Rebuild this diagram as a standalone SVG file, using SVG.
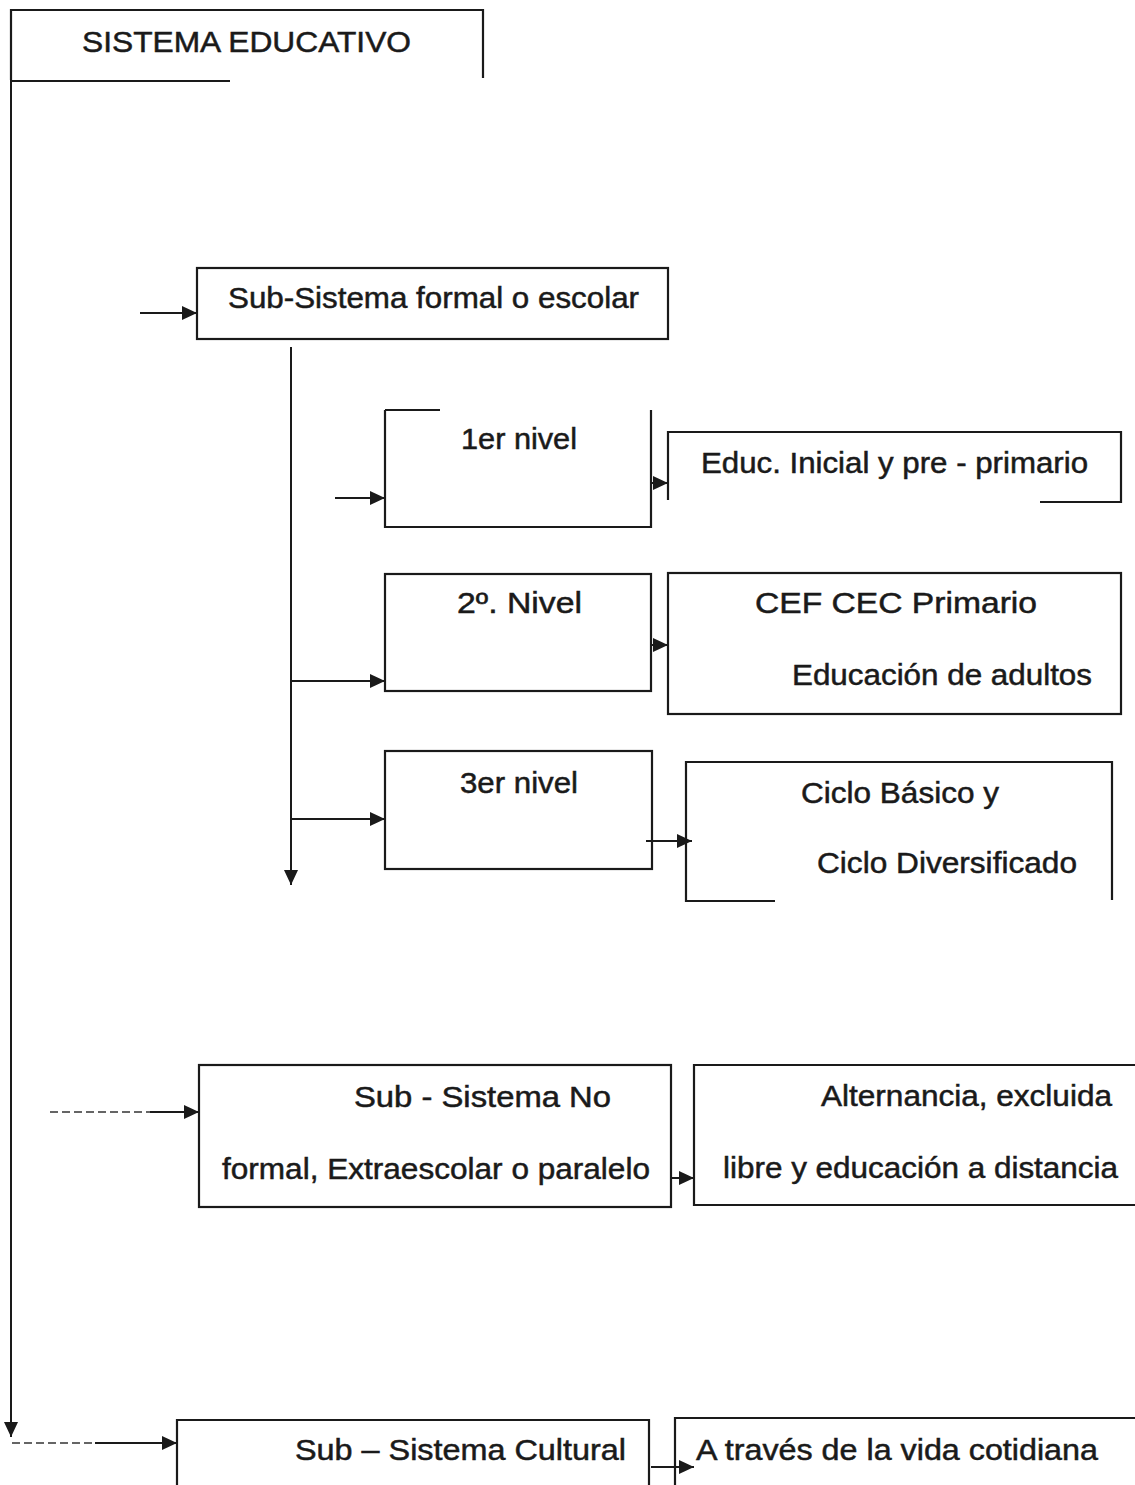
<svg xmlns="http://www.w3.org/2000/svg" width="1135" height="1485" viewBox="0 0 1135 1485">
<style>
.bx{fill:none;stroke:#1a1a1a;stroke-width:2.2}
.ln{fill:none;stroke:#1a1a1a;stroke-width:2}
.ds{fill:none;stroke:#333;stroke-width:1.6;stroke-dasharray:8 4}
.t{font-family:"Liberation Sans",Arial,sans-serif;font-size:29px;fill:#1a1a1a;stroke:#1a1a1a;stroke-width:0.5}
</style>
<defs>
<marker id="ah" markerUnits="userSpaceOnUse" markerWidth="16" markerHeight="14" refX="15" refY="7" orient="auto">
<path d="M0,0 L15,7 L0,14 z" fill="#1a1a1a"/>
</marker>
</defs>
<rect width="1135" height="1485" fill="#ffffff"/>
<g id="connectors">
<path class="ln" d="M11,80 V1437" marker-end="url(#ah)"/>
<path class="ln" d="M140,313 H197" marker-end="url(#ah)"/>
<path class="ln" d="M291,347 V885" marker-end="url(#ah)"/>
<path class="ln" d="M335,498 H385" marker-end="url(#ah)"/>
<path class="ln" d="M291,681 H385" marker-end="url(#ah)"/>
<path class="ln" d="M291,819 H385" marker-end="url(#ah)"/>
<path class="ln" d="M651,483 H668" marker-end="url(#ah)"/>
<path class="ln" d="M651,645 H668" marker-end="url(#ah)"/>
<path class="ln" d="M646,841 H692" marker-end="url(#ah)"/>
<path class="ds" d="M50,1112 H150"/>
<path class="ln" d="M150,1112 H199" marker-end="url(#ah)"/>
<path class="ln" d="M671,1178 H694" marker-end="url(#ah)"/>
<path class="ds" d="M12,1443 H95"/>
<path class="ln" d="M95,1443 H177" marker-end="url(#ah)"/>
<path class="ln" d="M651,1467 H694" marker-end="url(#ah)"/>
</g>
<g id="n-sistema">
<path class="bx" d="M11,80 V10 H483 V78"/>
<path class="bx" d="M11,81 H230"/>
<text class="t" x="82" y="52" textLength="329" lengthAdjust="spacingAndGlyphs">SISTEMA EDUCATIVO</text>
</g>
<g id="n-formal">
<rect class="bx" x="197" y="268" width="471" height="71"/>
<text class="t" x="228" y="308" textLength="411" lengthAdjust="spacingAndGlyphs">Sub-Sistema formal o escolar</text>
</g>
<g id="n-nivel1">
<path class="bx" d="M385,410 H440 M385,410 V527 H651 V410"/>
<text class="t" x="461" y="449" textLength="116" lengthAdjust="spacingAndGlyphs">1er nivel</text>
</g>
<g id="n-inicial">
<path class="bx" d="M668,500 V432 H1121 V502 H1040"/>
<text class="t" x="701" y="473" textLength="387" lengthAdjust="spacingAndGlyphs">Educ. Inicial y pre - primario</text>
</g>
<g id="n-nivel2">
<rect class="bx" x="385" y="574" width="266" height="117"/>
<text class="t" x="457" y="613" textLength="125" lengthAdjust="spacingAndGlyphs">2º.  Nivel</text>
</g>
<g id="n-cef">
<rect class="bx" x="668" y="573" width="453" height="141"/>
<text class="t" x="755" y="613" textLength="282" lengthAdjust="spacingAndGlyphs">CEF  CEC  Primario</text>
<text class="t" x="792" y="685" textLength="300" lengthAdjust="spacingAndGlyphs">Educación de adultos</text>
</g>
<g id="n-nivel3">
<rect class="bx" x="385" y="751" width="267" height="118"/>
<text class="t" x="460" y="793" textLength="118" lengthAdjust="spacingAndGlyphs">3er nivel</text>
</g>
<g id="n-ciclo">
<path class="bx" d="M775,901 H686 V762 H1112 V900"/>
<text class="t" x="801" y="803" textLength="198" lengthAdjust="spacingAndGlyphs">Ciclo Básico y</text>
<text class="t" x="817" y="873" textLength="260" lengthAdjust="spacingAndGlyphs">Ciclo Diversificado</text>
</g>
<g id="n-noformal">
<rect class="bx" x="199" y="1065" width="472" height="142"/>
<text class="t" x="354" y="1107" textLength="257" lengthAdjust="spacingAndGlyphs">Sub - Sistema  No</text>
<text class="t" x="222" y="1179" textLength="428" lengthAdjust="spacingAndGlyphs">formal, Extraescolar o paralelo</text>
</g>
<g id="n-alternancia">
<path class="bx" d="M1136,1065 H694 V1205 H1136"/>
<text class="t" x="821" y="1106" textLength="291" lengthAdjust="spacingAndGlyphs">Alternancia, excluida</text>
<text class="t" x="723" y="1178" textLength="395" lengthAdjust="spacingAndGlyphs">libre y educación a distancia</text>
</g>
<g id="n-cultural">
<path class="bx" d="M177,1486 V1420 H649 V1486"/>
<text class="t" x="295" y="1460" textLength="331" lengthAdjust="spacingAndGlyphs">Sub – Sistema  Cultural</text>
</g>
<g id="n-vida">
<path class="bx" d="M675,1486 V1418 H1136"/>
<text class="t" x="696" y="1460" textLength="402" lengthAdjust="spacingAndGlyphs">A través de la vida  cotidiana</text>
</g>
</svg>
